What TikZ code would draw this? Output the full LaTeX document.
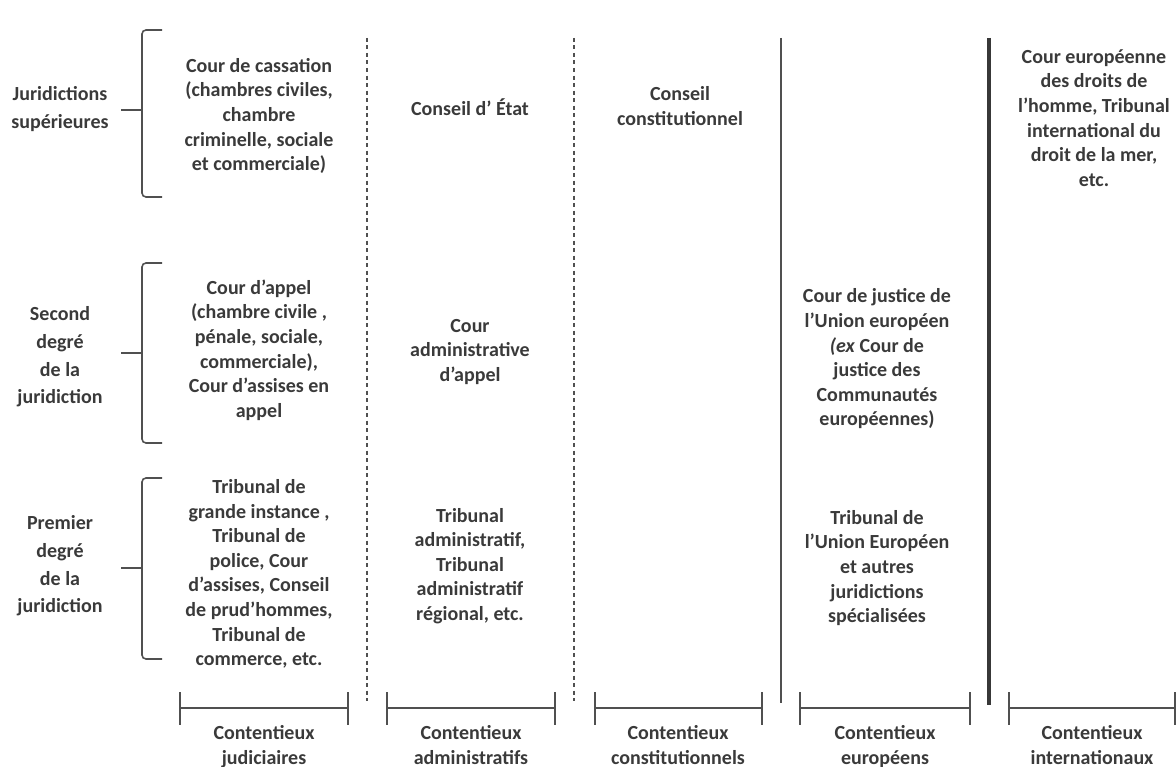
\documentclass[tikz,border=0pt]{standalone}
\usepackage{fontspec}
\setmainfont{Carlito}
\definecolor{txt}{HTML}{3A3A3A}
\definecolor{ln}{HTML}{505050}
\tikzset{
  lbl/.style={align=center, text=txt, font=\bfseries\fontsize{20bp}{27.7bp}\selectfont, inner sep=0pt},
  cell/.style={align=center, text=txt, font=\bfseries\fontsize{20bp}{24.6bp}\selectfont, inner sep=0pt},
  foot/.style={cell, anchor=north},
  brace/.style={draw=ln, line width=1.6pt, rounded corners=4bp},
  sepdot/.style={draw=ln, line width=1.6pt, dash pattern=on 4bp off 3.5bp},
  septhin/.style={draw=ln, line width=2.2pt},
  septhick/.style={draw=ln!70!black, line width=4.2pt},
  bar/.style={draw=ln, line width=2pt},
}
\begin{document}
\begin{tikzpicture}[x=1bp,y=-1bp]
\useasboundingbox (0,0) rectangle (1176,767);
% left labels
\node[lbl] (l1) at (60,109) {Juridictions\\supérieures};
\node[lbl] (l2) at (60,357) {Second\\degré\\de la\\juridiction};
\node[lbl] (l3) at (60,566) {Premier\\degré\\de la\\juridiction};
% braces
\coordinate (b1t) at (162,30); \coordinate (b1m) at (142,110); \coordinate (b1b) at (162,197); \coordinate (b1p) at (121,110);
\draw[brace] (b1t) -- (142,30) -- (b1m) -- (142,197) -- (b1b);
\draw[brace] (b1m) -- (b1p);
\coordinate (b2t) at (162,263); \coordinate (b2m) at (142,353); \coordinate (b2b) at (162,443); \coordinate (b2p) at (121,353);
\draw[brace] (b2t) -- (142,263) -- (b2m) -- (142,443) -- (b2b);
\draw[brace] (b2m) -- (b2p);
\coordinate (b3t) at (162,478); \coordinate (b3m) at (142,568); \coordinate (b3b) at (162,659); \coordinate (b3p) at (121,568);
\draw[brace] (b3t) -- (142,478) -- (b3m) -- (142,659) -- (b3b);
\draw[brace] (b3m) -- (b3p);
% separators
\coordinate (s1t) at (367,38); \coordinate (s1b) at (367,701);
\coordinate (s2t) at (574,38); \coordinate (s2b) at (574,701);
\coordinate (s3t) at (781,38); \coordinate (s3b) at (781,703);
\coordinate (s4t) at (989,38); \coordinate (s4b) at (989,705);
\draw[sepdot] (s1t) -- (s1b);
\draw[sepdot] (s2t) -- (s2b);
\draw[septhin] (s3t) -- (s3b);
\draw[septhick] (s4t) -- (s4b);
% cells
\node[cell] (c11) at (259,116) {Cour de cassation\\(chambres civiles,\\chambre\\criminelle, sociale\\et commerciale)};
\node[cell] (c12) at (259,350) {Cour d’appel\\(chambre civile ,\\pénale, sociale,\\commerciale),\\Cour d’assises en\\appel};
\node[cell] (c13) at (259,574) {Tribunal de\\grande instance ,\\Tribunal de\\police, Cour\\d’assises, Conseil\\de prud’hommes,\\Tribunal de\\commerce, etc.};
\node[cell] (c21) at (470,107) {Conseil d’ État};
\node[cell] (c22) at (470,352) {Cour\\administrative\\d’appel};
\node[cell] (c23) at (470,566) {Tribunal\\administratif,\\Tribunal\\administratif\\régional, etc.};
\node[cell] (c31) at (680,106) {Conseil\\constitutionnel};
\node[cell] (c42) at (877,359) {Cour de justice de\\l’Union européen\\\textit{(ex} Cour de\\justice des\\Communautés\\européennes)};
\node[cell] (c43) at (877,568) {Tribunal de\\l’Union Européen\\et autres\\juridictions\\spécialisées};
\node[cell] (c51) at (1094,118) {Cour européenne\\des droits de\\l’homme, Tribunal\\international du\\droit de la mer,\\etc.};
% bottom bars
\foreach \i/\a/\b in {1/180/348, 2/387/555, 3/595/762, 4/800/970, 5/1009/1175} {
  \coordinate (x\i a) at (\a,708); \coordinate (x\i b) at (\b,708);
  \draw[bar] (x\i a) -- (x\i b);
  \draw[bar] (\a,692) -- (\a,725);
  \draw[bar] (\b,692) -- (\b,725);
}
\node[foot] (t1) at (264,722) {\strut Contentieux\\judiciaires\strut};
\node[foot] (t2) at (471,722) {\strut Contentieux\\administratifs\strut};
\node[foot] (t3) at (678,722) {\strut Contentieux\\constitutionnels\strut};
\node[foot] (t4) at (885,722) {\strut Contentieux\\européens\strut};
\node[foot] (t5) at (1092,722) {\strut Contentieux\\internationaux\strut};
\end{tikzpicture}
\end{document}
